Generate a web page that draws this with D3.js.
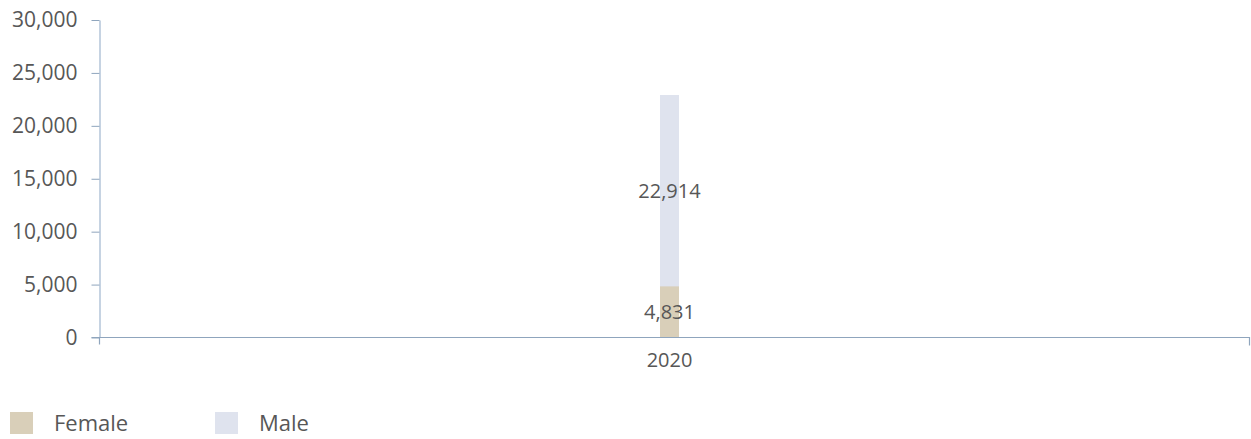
<!DOCTYPE html>
<html>
<head>
<meta charset="utf-8">
<script src="https://cdn.jsdelivr.net/npm/d3@7"></script>
<style>
  html, body { margin: 0; padding: 0; background: #fff; }
  svg { display: block; font-family: "Open Sans", "DejaVu Sans", sans-serif; }
</style>
</head>
<body>
<svg id="chart" width="1251" height="439"></svg>
<script>
// Chart data
const categories = ["2020"];
const seriesNames = ["Female", "Male"];
const femaleValues = [4831];
const maleValues = [22914];
const yTicks = [0, 5000, 10000, 15000, 20000, 25000, 30000];

const colors = { Female: "#d9cfb9", Male: "#dfe3ee" };
const textColor = "#575757";

const svg = d3.select("#chart");
const plot = { left: 99.5, right: 1249.5, top: 20, bottom: 337.5 };

const y = d3.scaleLinear().domain([0, 30000]).range([plot.bottom, plot.top]);
const x = d3.scaleBand().domain(categories).range([plot.left, 1239.5]);
const barWidth = 19;

// Y axis
const yAxis = svg.append("g")
  .attr("transform", `translate(${plot.left},0)`)
  .call(d3.axisLeft(y).tickValues(yTicks).tickFormat(d3.format(",")).tickSizeInner(8).tickSizeOuter(0).tickPadding(14));
yAxis.select(".domain").attr("stroke", "#b3c5d8").attr("stroke-width", 1.5);
yAxis.selectAll(".tick line").attr("stroke", "#8fa5bd");
yAxis.selectAll(".tick text")
  .attr("fill", textColor).style("font-size", "21px").style("font-family", "Open Sans, sans-serif");

// Bars: male from zero, female drawn in front
const rows = categories.map((c, i) => ({ cat: c, Female: femaleValues[i], Male: maleValues[i] }));

svg.append("g").selectAll("rect").data(rows).join("rect")
  .attr("x", d => x(d.cat) + x.bandwidth() / 2 - barWidth / 2)
  .attr("width", barWidth)
  .attr("y", d => y(d.Male))
  .attr("height", d => y(0) - y(d.Male))
  .attr("fill", colors.Male);

svg.append("g").selectAll("rect").data(rows).join("rect")
  .attr("x", d => x(d.cat) + x.bandwidth() / 2 - barWidth / 2)
  .attr("width", barWidth)
  .attr("y", d => y(d.Female))
  .attr("height", d => y(0) - y(d.Female))
  .attr("fill", colors.Female);

// X axis
const xAxis = svg.append("g")
  .attr("transform", `translate(0,${plot.bottom})`)
  .call(d3.axisBottom(x).tickSizeInner(0).tickSizeOuter(0).tickPadding(15));
xAxis.select(".domain").remove();
xAxis.append("path")
  .attr("d", `M${plot.left - 8},0H${plot.right}V8M${plot.left},0V7`)
  .attr("fill", "none").attr("stroke", "#8fa5bd").attr("stroke-width", 1.2);
xAxis.selectAll(".tick text")
  .attr("fill", textColor).style("font-size", "20px").style("font-family", "Open Sans, sans-serif");

// Value labels, centred on the visible part of each bar
const labels = svg.append("g")
  .attr("fill", textColor).style("font-size", "20px").attr("text-anchor", "middle");
rows.forEach(d => {
  const cx = x(d.cat) + x.bandwidth() / 2;
  labels.append("text")
    .attr("x", cx).attr("y", (y(d.Male) + y(d.Female)) / 2)
    .attr("dy", "0.35em").text(d3.format(",")(d.Male));
  labels.append("text")
    .attr("x", cx).attr("y", (y(d.Female) + y(0)) / 2)
    .attr("dy", "0.35em").text(d3.format(",")(d.Female));
});

// Legend
const legend = svg.append("g").attr("transform", "translate(10,412)");
const legendX = [0, 205];
seriesNames.forEach((name, i) => {
  const g = legend.append("g").attr("transform", `translate(${legendX[i]},0)`);
  g.append("rect").attr("width", 23).attr("height", 22).attr("fill", colors[name]);
  g.append("text").attr("x", 44).attr("y", 11).attr("dy", "0.38em")
    .attr("fill", textColor).style("font-size", "22px").text(name);
});
</script>
</body>
</html>
